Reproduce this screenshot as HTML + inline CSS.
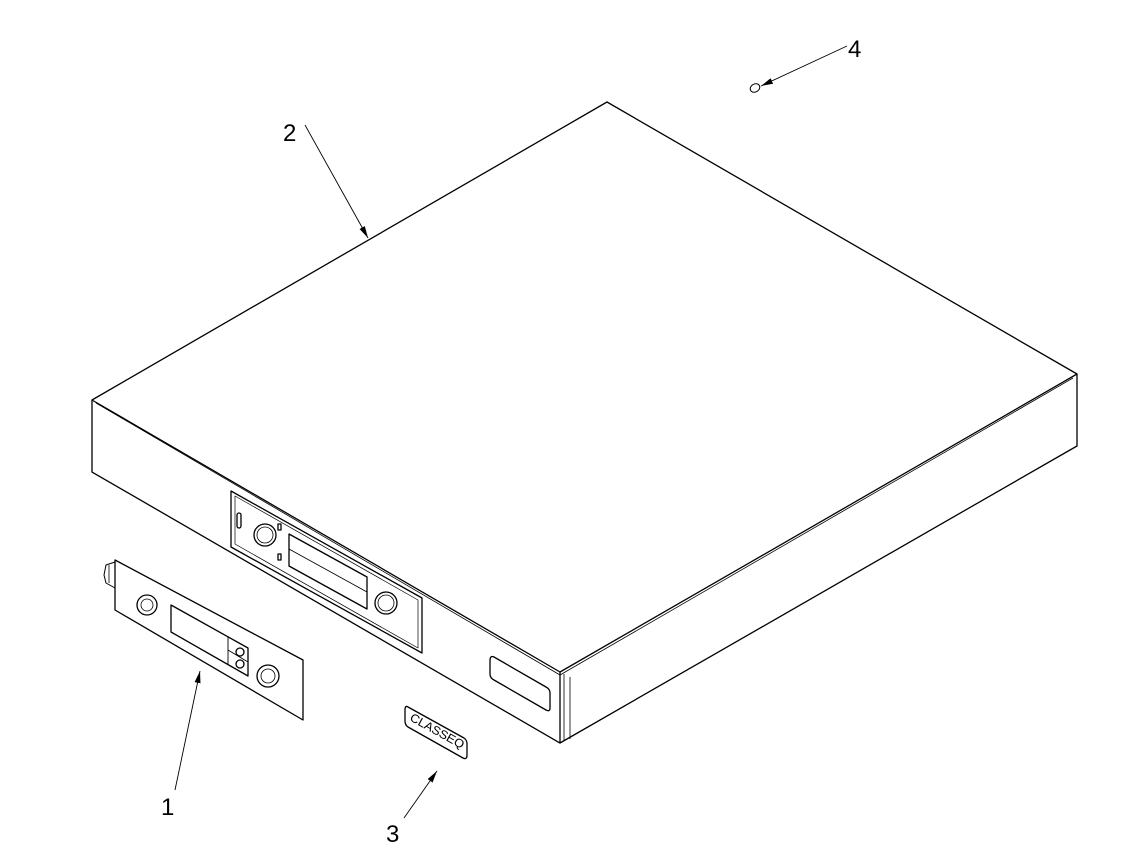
<!DOCTYPE html>
<html><head><style>html,body{margin:0;padding:0;background:#fff}svg{display:block}</style></head><body>
<svg width="1148" height="868" viewBox="0 0 1148 868" xmlns="http://www.w3.org/2000/svg" font-family="Liberation Sans, sans-serif">
<defs><marker id="a" markerWidth="12" markerHeight="6" refX="12" refY="3" orient="auto" markerUnits="userSpaceOnUse"><path d="M0,0 L12,3 L0,6 Z" fill="#000"/></marker></defs>
<g fill="none" stroke="#000" stroke-width="1.3" stroke-linejoin="round">
<path d="M92,400 L607,102 L1077,374 L560,672 Z" fill="#fff"/>
<path d="M96,403 L560,675 L1073,378" stroke-width="0.8"/>
<path d="M92,400 L92,472 L560,743 L560,672"/>
<path d="M560,743 L1077,446 L1077,374"/>
<path d="M570,677 L570,739" stroke-width="0.8"/>
<path d="M564,674 L564,741" stroke-width="0.8"/>
<path d="M231,491 L422,598 L422,653 L231,547 Z"/>
<path d="M235,496 L418,600 L418,648 L235,544 Z" stroke-width="0.7"/>
<path d="M289,534 L367,577 L367,609 L289,566 Z"/>
<path d="M289,549 L367,592" stroke-width="0.8"/>
<circle cx="265" cy="535" r="11"/><circle cx="265" cy="535" r="8" stroke-width="0.8"/>
<circle cx="386" cy="603" r="11"/><circle cx="386" cy="603" r="8" stroke-width="0.8"/>
<rect x="237" y="513" width="4" height="15" rx="2"/>
<rect x="278" y="524" width="3" height="6"/><rect x="278" y="554" width="3" height="6"/>
<path d="M494,657 L546,687 Q550,689 550,693 L550,708 Q550,712 546,710 L494,680 Q490,678 490,674 L490,661 Q490,655 494,657 Z"/>
<path d="M115,560 L303,660 L303,720 L115,610 Z" fill="#fff"/>
<path d="M115,562 L106,565 L104,575 L106,583 L115,588" stroke-width="1"/>
<path d="M109,565 L109,583" stroke-width="0.8"/>
<path d="M171,605 L248,648 L248,676 L171,632 Z"/>
<path d="M228,637 L228,665 M228,650 L248,662" stroke-width="0.9"/>
<circle cx="240" cy="652" r="4"/><circle cx="240" cy="664" r="4"/>
<circle cx="147" cy="605" r="10"/><circle cx="147" cy="605" r="6" stroke-width="0.8"/>
<circle cx="268" cy="676" r="11"/><circle cx="268" cy="676" r="7" stroke-width="0.8"/>
<path d="M408,707 L464,738 Q467,740 467,744 L467,755 Q467,760 463,758 L408,727 Q405,725 405,721 L405,710 Q405,705 408,707 Z"/>
<ellipse cx="755" cy="88" rx="5" ry="4" transform="rotate(-30 755 88)" stroke-width="1"/>
</g>
<text x="0" y="0" font-size="12" transform="translate(409,720) rotate(29)" fill="#000" textLength="60" lengthAdjust="spacingAndGlyphs">CLASSEQ</text>
<g stroke="#000" stroke-width="0.9" fill="none">
<line x1="305" y1="125" x2="368" y2="238" marker-end="url(#a)"/>
<line x1="175" y1="790" x2="200" y2="671" marker-end="url(#a)"/>
<line x1="404" y1="818" x2="437" y2="771" marker-end="url(#a)"/>
<line x1="847" y1="46" x2="761" y2="86" marker-end="url(#a)"/>
</g>
<g font-size="24" fill="#000">
<text x="283" y="141">2</text>
<text x="161" y="815">1</text>
<text x="386" y="842">3</text>
<text x="848" y="57">4</text>
</g>
</svg>
</body></html>
